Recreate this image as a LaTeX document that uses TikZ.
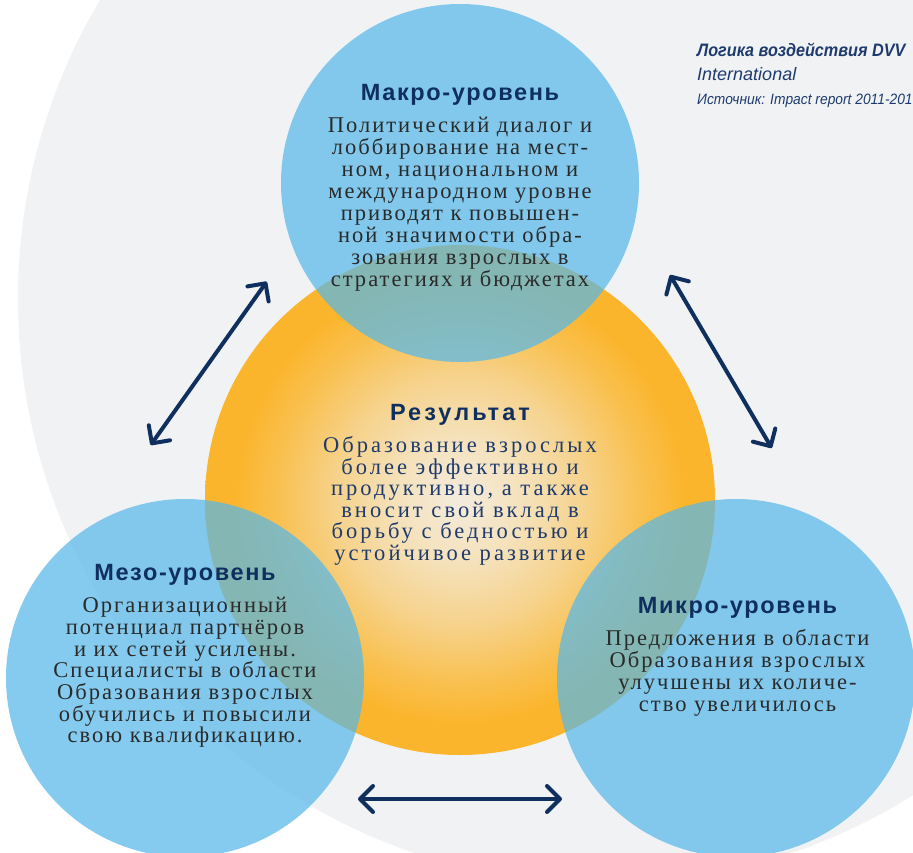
\documentclass[tikz,border=0pt]{standalone}
\usepackage{fontspec}
\setmainfont{Liberation Serif}
\newfontfamily\bodyfont{Liberation Serif}[LetterSpace=9]
\newfontfamily\centerfont{Liberation Serif}[LetterSpace=13.5]
\newfontfamily\headfont{Liberation Sans}[LetterSpace=7]
\newfontfamily\resheadfont{Liberation Sans}[LetterSpace=13]
\newfontfamily\labelfont{Liberation Sans}[FakeStretch=0.9]
\newfontfamily\labelfontwide{Liberation Sans}[FakeStretch=1.0]
\newfontfamily\labelfontsrc{Liberation Sans}[FakeStretch=0.92]
\usetikzlibrary{arrows.meta}
\definecolor{bggrey}{HTML}{F1F2F4}
\definecolor{bluecirc}{RGB}{87,184,233}
\definecolor{navy}{HTML}{0F2F5F}
\definecolor{navytext}{HTML}{1F3B6D}
\definecolor{darktext}{HTML}{2A2A2A}
\definecolor{oc0}{HTML}{F4EBDD}
\definecolor{oc1}{HTML}{F5E2BC}
\definecolor{oc2}{HTML}{F6D38E}
\definecolor{oc3}{HTML}{F9C04F}
\definecolor{oc4}{HTML}{FBB52C}
\pgfdeclareradialshading{orangeglow}{\pgfpointorigin}{color(0bp)=(oc0); color(6bp)=(oc1); color(12bp)=(oc2); color(18bp)=(oc3); color(22bp)=(oc4); color(25bp)=(oc4); color(50bp)=(oc4)}
\tikzset{
  levelcircle/.style={fill=bluecirc, fill opacity=0.72, draw=none},
  headtext/.style={font=\headfont\bfseries\fontsize{23.5}{23.5}\selectfont, text=navy, inner sep=0pt, anchor=base},
  bodytext/.style={font=\bodyfont\fontsize{22.5}{22}\selectfont, text=darktext, align=center, inner sep=0pt, anchor=base},
  labeltext/.style={text=navytext, inner sep=0pt, anchor=base west},
  dblarrow/.style={draw=navy, line width=4pt, line cap=round, >={Straight Barb[length=13pt,width=26pt,round]}, <->}
}
\begin{document}
\begin{tikzpicture}[x=1pt,y=-1pt]
\useasboundingbox (0,0) rectangle (913,853);
\clip (0,0) rectangle (913,853);
\fill[white] (0,0) rectangle (913,853);
\fill[bggrey] (603,299) circle[radius=585];
\shade[shading=orangeglow] (460,500) circle[radius=255];
\fill[levelcircle] (460,183) circle[radius=179];
\fill[levelcircle] (185,678) circle[radius=179];
\fill[levelcircle] (736,678) circle[radius=179];

% multi-line nodes: anchor=base is the baseline of the last line
\node[headtext] (makroh) at (460,100.7) {Макро-уровень};
\node[bodytext] (makrob) at (460,286.7) {Политический диалог и\\лоббирование на мест-\\ном, национальном и\\международном уровне\\приводят к повышен-\\ной значимости обра-\\зования взрослых в\\стратегиях и бюджетах};

\node[headtext, font=\resheadfont\bfseries\fontsize{23.5}{23.5}\selectfont] (resh) at (460,420) {Результат};
\node[bodytext, text=navytext, font=\centerfont\fontsize{22.5}{21.6}\selectfont] (resb) at (460,560.5) {Образование взрослых\\более эффективно и\\продуктивно, а также\\вносит свой вклад в\\борьбу с бедностью и\\устойчивое развитие};

\node[headtext] (mezoh) at (185,580.7) {Мезо-уровень};
\node[bodytext, font=\bodyfont\fontsize{22.5}{21.7}\selectfont] (mezob) at (185,742.9) {Организационный\\потенциал партнёров\\и их сетей усилены.\\Специалисты в области\\Образования взрослых\\обучились и повысили\\свою квалификацию.};

\node[headtext] (mikroh) at (737.5,613.3) {Микро-уровень};
\node[bodytext, font=\bodyfont\fontsize{22.5}{22.2}\selectfont] (mikrob) at (737.5,711.6) {Предложения в области\\Образования взрослых\\улучшены их количе-\\ство увеличилось};

\node[labeltext, font=\labelfont\bfseries\itshape\fontsize{18}{18}\selectfont] (lab1) at (697,57) {Логика воздействия DVV};
\node[labeltext, font=\labelfontwide\itshape\fontsize{18}{18}\selectfont] (lab2) at (697,81) {International};
\node[labeltext, font=\labelfontsrc\itshape\fontsize{15}{15}\selectfont] (lab3) at (697,105) {Источник: Impact report 2011-201};

\coordinate (a1s) at (150.7,445);
\coordinate (a1e) at (266.7,281.7);
\coordinate (a2s) at (670,275);
\coordinate (a2e) at (771.7,448);
\coordinate (a3s) at (358,799);
\coordinate (a3e) at (562,799);
\draw[dblarrow] (a1s) -- (a1e);
\draw[dblarrow] (a2s) -- (a2e);
\draw[dblarrow] (a3s) -- (a3e);
\end{tikzpicture}
\end{document}
